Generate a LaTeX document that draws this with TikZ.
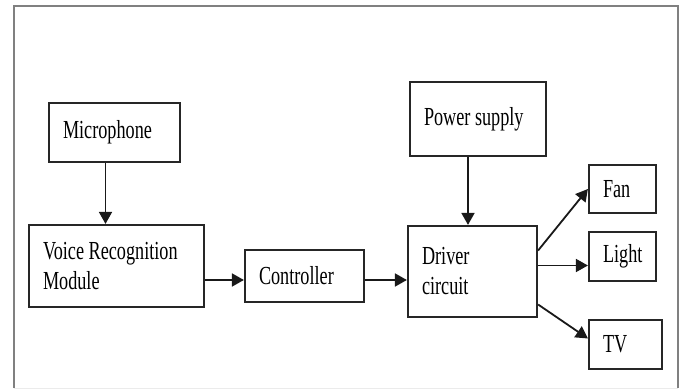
\documentclass[tikz,border=0pt]{standalone}
\usepackage{fontspec}
\setmainfont{Liberation Serif}[FakeStretch=0.70]
\usetikzlibrary{arrows.meta}
\begin{document}
\begin{tikzpicture}[
	x=1pt, y=-1pt,
	blk/.style={draw=black!85, line width=2.2pt, align=flush left, inner xsep=14pt,
		inner ysep=0pt, font=\fontsize{26}{30}\selectfont},
	arr/.style={draw=black!90, line width=1.8pt,
		-{Triangle[length=12pt,width=13pt]}},
	frame/.style={draw=black!50, line width=1.6pt},
]
\useasboundingbox (0,0) rectangle (683,390);
\draw[frame] (14,388) -- (14,6) -- (678,6) -- (678,388);
\draw[draw=black!8, line width=1pt] (14,388) -- (678,388);
% blocks
\node[blk, text width=103pt, minimum height=59pt] (mic) at (114.5,132.5) {Microphone};
\node[blk, text width=108pt, minimum height=74pt] (psu) at (478,119) {Power supply};
\node[blk, text width=147pt, minimum height=82pt] (vrm) at (116.5,266) {Voice Recognition\\Module};
\node[blk, text width=91pt, minimum height=52pt] (ctrl) at (304.5,276) {Controller};
\node[blk, text width=101pt, minimum height=91pt] (drv) at (472.5,271.5) {Driver\\circuit};
\node[blk, text width=39pt, minimum height=48pt] (fan) at (622.5,189) {Fan};
\node[blk, text width=39pt, minimum height=49pt] (light) at (622.5,256.5) {Light};
\node[blk, text width=45pt, minimum height=49pt] (tv) at (625.5,344.5) {TV};
% links
\draw[arr] ([xshift=-9pt]mic.south) -- ([xshift=-9pt]mic.south |- vrm.north);
\draw[arr] ([xshift=-10pt]psu.south) -- ([xshift=-10pt]psu.south |- drv.north);
\draw[arr] ([yshift=-14pt]vrm.east) -- ([yshift=-14pt]vrm.east -| ctrl.west);
\draw[arr] ([yshift=-4pt]ctrl.east) -- ([yshift=-4pt]ctrl.east -| drv.west);
\draw[arr] ([yshift=21pt]drv.east) -- (fan.west);
\draw[arr] ([yshift=6pt]drv.east) -- ([yshift=6pt]drv.east -| light.west);
\draw[arr] ([yshift=-33pt]drv.east) -- ([yshift=6pt]tv.west);
\end{tikzpicture}
\end{document}
